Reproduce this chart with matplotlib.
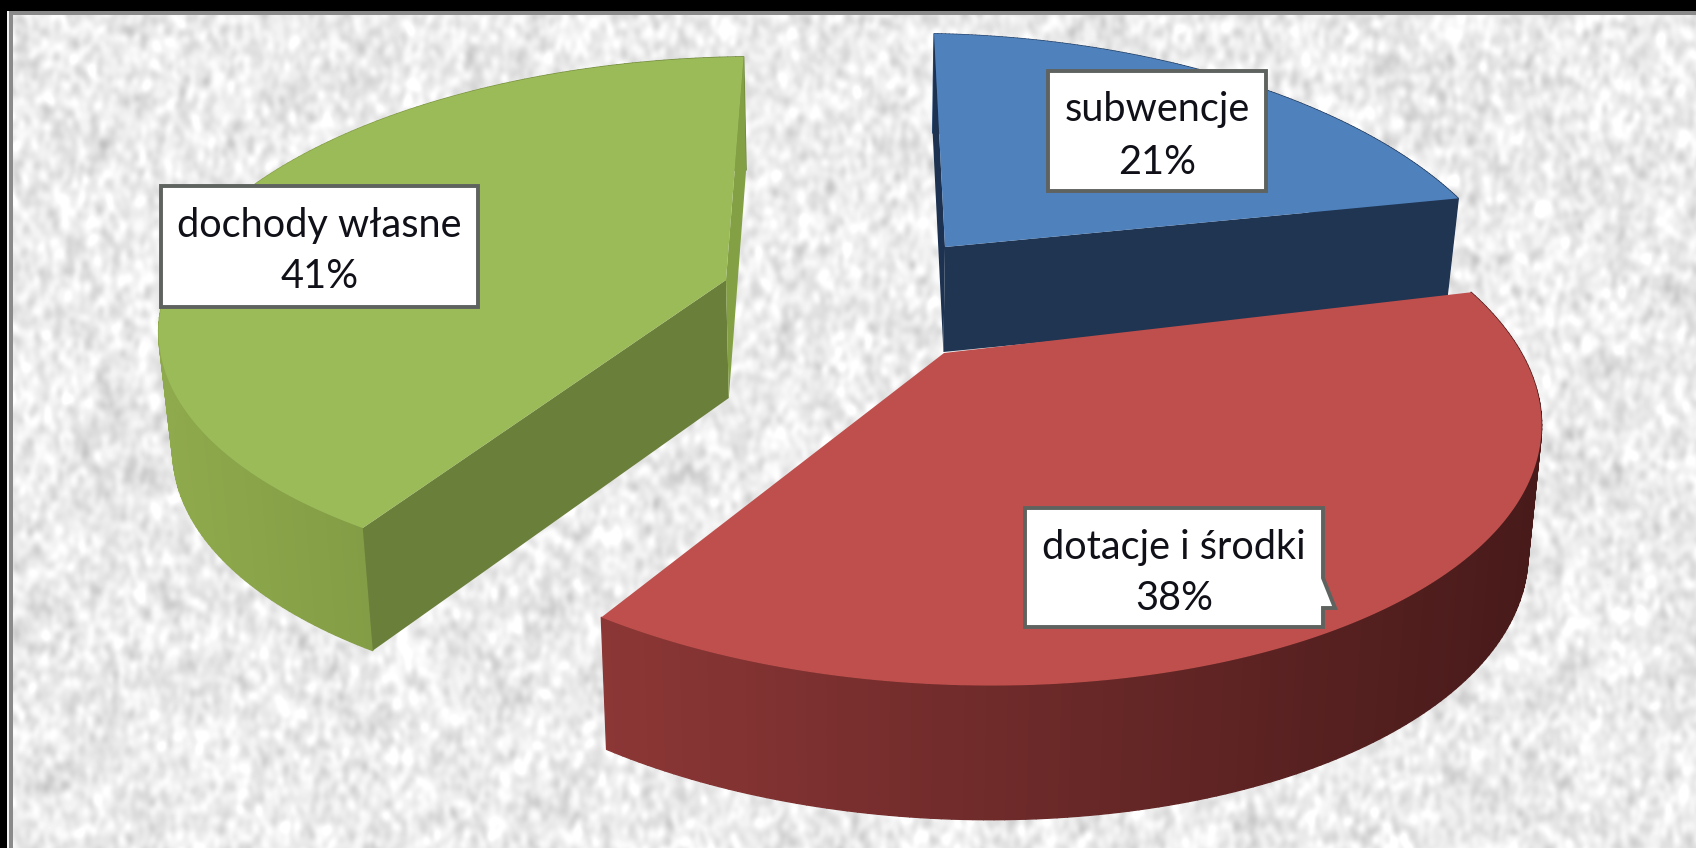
import numpy as np
import matplotlib
matplotlib.use("Agg")
import matplotlib.pyplot as plt
from matplotlib.collections import PolyCollection
from matplotlib.colors import to_rgb
from matplotlib.patches import Polygon, Rectangle

labels = ["subwencje", "dotacje i środki", "dochody własne"]
values = [21, 38, 41]

start_angle = 84.6  # first slice starts near the back, goes clockwise

# one entry per slice, same order as values
apex_x = [945, 944, 726]
apex_y = [247, 353, 280]
radius_x = [547, 563, 565]
radius_y = [258, 262, 255]
persp = [0.21, 0.21, 0.15]
lean = [-65, -75, -33]
tilt = [10, 22, 28]
depth = [105, 125, 118]
top_colors = ["#4F81BD", "#BE4F4C", "#9BBB59"]
wall_left = ["#2A4A73", "#8C3736", "#8FAA4C"]
wall_right = ["#1F3552", "#481A1A", "#6E853B"]
# None = cut face hidden behind the top of the slice
edge_a_colors = ["#1C3250", None, "#6A7F3A"]
edge_b_colors = ["#1F3552", None, "#84A044"]

# label boxes: left, top, right, bottom
boxes = [(1048, 71, 1266, 191), (1025, 508, 1323, 627), (161, 186, 478, 307)]


def project(i, ang):
    u = np.cos(ang)
    v = np.sin(ang)
    w = 1 + persp[i] * v
    x = apex_x[i] + (radius_x[i] * u + lean[i] * v) / w
    y = apex_y[i] - (radius_y[i] * v + tilt[i] * u) / w
    return x, y, w


def drop(i, x, y, w):
    # bottom of the wall under a top point, verticals converge a little
    return x + 0.02 * (865 - x), y + depth[i] / w**0.3


def lerp_color(c1, c2, t):
    a = np.array(to_rgb(c1))
    b = np.array(to_rgb(c2))
    return tuple(a + (b - a) * t)


def blur_noise(rng, h, w, sx, sy):
    fx = np.fft.fftfreq(w)[None, :]
    fy = np.fft.fftfreq(h)[:, None]
    kernel = np.exp(-2 * np.pi**2 * (fx**2 * sx**2 + fy**2 * sy**2))
    out = np.fft.ifft2(np.fft.fft2(rng.normal(size=(h, w))) * kernel).real
    return out / out.std()


def paper_texture(h, w):
    # only the grey paper backdrop, not chart data
    rng = np.random.default_rng(7)
    img = 236 + 9 * blur_noise(rng, h, w, 3, 4) + 3 * blur_noise(rng, h, w, 14, 14)
    return np.clip(img, 185, 255) / 255


fig = plt.figure(figsize=(16.96, 8.48), dpi=100)
ax = fig.add_axes([0, 0, 1, 1])
ax.imshow(paper_texture(848, 1696), cmap="gray", vmin=0, vmax=1, extent=(0, 1696, 848, 0), aspect="auto", interpolation="bilinear", zorder=0)

# window frame on the left and top
ax.add_patch(Rectangle((0, 0), 1696, 11, fc="black", ec="none", zorder=1))
ax.add_patch(Rectangle((0, 0), 7, 848, fc="black", ec="none", zorder=1))
ax.add_patch(Rectangle((7, 11), 2, 837, fc="#f4f4f4", ec="none", zorder=1))
ax.add_patch(Rectangle((9, 11), 4, 837, fc="#8a8a8a", ec="none", zorder=1))
ax.add_patch(Rectangle((9, 11), 1687, 4, fc="#8a8a8a", ec="none", zorder=1))

angle = np.radians(start_angle)
edges = []
for val in values:
    edges.append((angle, angle - np.radians(val * 3.6)))
    angle = edges[-1][1]

# green first, then blue, red last because it sits in front
for n, i in enumerate([2, 0, 1]):
    a0, a1 = edges[i]
    z = 2 + n
    ang = np.linspace(a0, a1, 160)
    x, y, w = project(i, ang)
    xb, yb = drop(i, x, y, w)
    ax0, ay0 = apex_x[i], apex_y[i]
    axb, ayb = drop(i, ax0, ay0, 1.0)

    # outer wall as thin quads for the gradient
    quads = []
    cols = []
    for k in range(len(ang) - 1):
        quads.append([(x[k], y[k]), (x[k + 1], y[k + 1]), (xb[k + 1], yb[k + 1]), (xb[k], yb[k])])
        t = (x[k] - x.min()) / (x.max() - x.min())
        cols.append(lerp_color(wall_left[i], wall_right[i], t))
    ax.add_collection(PolyCollection(quads, facecolors=cols, edgecolors=cols, linewidths=1.0, zorder=z))

    # the flat cut faces that can be seen
    if edge_a_colors[i]:
        ax.add_patch(Polygon([(x[0], y[0]), (ax0, ay0), (axb, ayb), (xb[0], yb[0])], fc=edge_a_colors[i], ec="none", zorder=z + 0.2))
    if edge_b_colors[i]:
        ax.add_patch(Polygon([(x[-1], y[-1]), (ax0, ay0), (axb, ayb), (xb[-1], yb[-1])], fc=edge_b_colors[i], ec="none", zorder=z + 0.2))

    ax.add_patch(Polygon(list(zip(x, y)) + [(ax0, ay0)], fc=top_colors[i], ec="none", zorder=z + 0.5))

# label boxes
for i, (l, t, r, b) in enumerate(boxes):
    pts = [(l, t), (r, t), (r, b), (l, b)]
    if i == 1:
        # little callout tail on the red label
        pts = [(l, t), (r, t), (r, 578), (1335, 608), (r, 608), (r, b), (l, b)]
    ax.add_patch(Polygon(pts, fc="white", ec="#5f6360", lw=2.8, joinstyle="miter", zorder=10))
    cx = (l + r) / 2
    ax.text(cx, t + 39, labels[i], ha="center", va="center", fontsize=28.6, family="Lato", color="#101018", zorder=11)
    ax.text(cx, t + 91, f"{values[i]}%", ha="center", va="center", fontsize=28.6, family="Lato", color="#101018", zorder=11)

ax.set_xlim(0, 1696)
ax.set_ylim(848, 0)
ax.axis("off")
fig.savefig("out.png", dpi=100)
